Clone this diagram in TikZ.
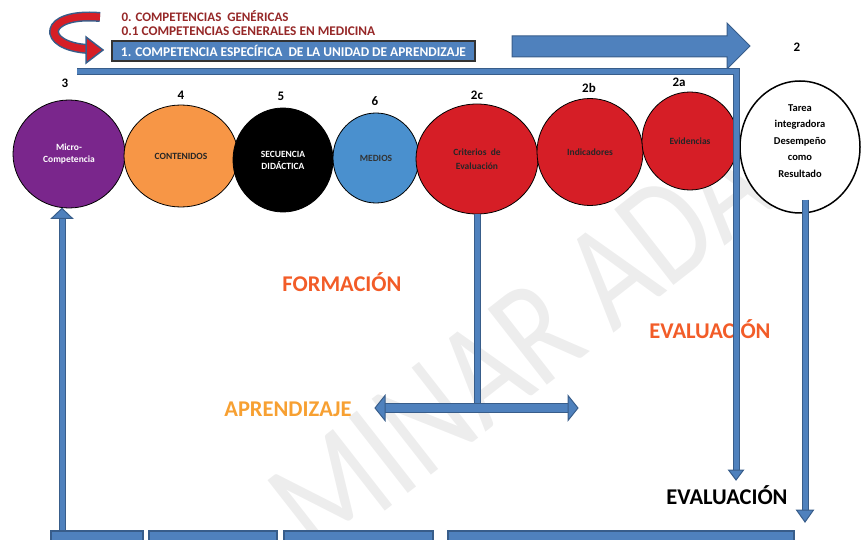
\documentclass[tikz,border=0pt]{standalone}
\usepackage{fontspec}
\setmainfont{Carlito}
\newfontfamily\marcafont[FakeStretch=0.8]{Carlito}
\usetikzlibrary{shapes.geometric}

\definecolor{azul}{RGB}{79,129,189}
\definecolor{azulborde}{RGB}{56,93,138}
\definecolor{rojooscuro}{RGB}{150,40,40}
\definecolor{morado}{RGB}{122,38,140}
\definecolor{naranja}{RGB}{247,150,70}
\definecolor{celeste}{RGB}{74,144,206}
\definecolor{rojo}{RGB}{214,30,38}
\definecolor{naranjarojo}{RGB}{242,92,40}
\definecolor{naranjaclaro}{RGB}{247,160,50}

% punta de flecha: (punta)[angulo:largo:ancho]
\def\punta(#1)[#2:#3:#4]{\draw[draw=azulborde, fill=azul, line width=1pt, line join=miter, shift={(#1)}, rotate=#2] (0,0) -- (-#3,#4/2) -- (-#3,-#4/2) -- cycle;}

\begin{document}
\begin{tikzpicture}[x=1pt, y=-1pt,
	circulo/.style={ellipse, draw=black, line width=0.8pt, inner sep=0pt, align=center, font=\bfseries\fontsize{9.5}{15}\selectfont},
	numero/.style={font=\bfseries\fontsize{13}{13}\selectfont},
	tubo/.style={draw=azulborde, double=azul, double distance=5pt, line width=1pt, line join=miter},
	caja/.style={draw=azulborde, fill=azul, line width=1.5pt, anchor=north west, minimum height=20, inner sep=0pt},
	titulo/.style={font=\bfseries\fontsize{22.5}{22}\selectfont}]
		%%%%% START %%%%%
		\useasboundingbox (0,0) rectangle (862,540);
		
		\begin{scope}
			\clip (0,0) rectangle (862,540);
			\node[rotate=38, text=black!7, font=\marcafont\fontsize{150}{150}\selectfont] (marca) at (520,345) {MINAR ADA};
		\end{scope}
		
		% competencias
		\node[anchor=west, text=rojooscuro, font=\bfseries\fontsize{13}{13}\selectfont] (generica) at (118,16) {0. COMPETENCIAS\ \ GENÉRICAS};
		\node[anchor=west, text=rojooscuro, font=\bfseries\fontsize{13.3}{13}\selectfont] (general) at (118,31) {0.1 COMPETENCIAS GENERALES EN MEDICINA};
		\node[draw=black!80, fill=azul, line width=1.2pt, minimum width=363, minimum height=20, inner sep=0pt, text=white, font=\bfseries\fontsize{13.4}{13}\selectfont] (especifica) at (293.5,51) {1. COMPETENCIA ESPECÍFICA\ \ DE LA UNIDAD DE APRENDIZAJE};
		
		\draw[draw=azulborde, double=rojo, double distance=7pt, line width=1.5pt] (100,17) .. controls (42,12) and (40,46) .. (88,49);
		\draw[draw=azulborde, fill=rojo, line width=1.5pt, line join=miter] (103,50) -- (86,37) -- (86,63) -- cycle;
		
		\draw[draw=azulborde, fill=azul, line width=1pt, line join=miter] (512,36) -- (727,36) -- (727,23) -- (750,46) -- (727,69) -- (727,57) -- (512,57) -- cycle;
		
		% circulos
		\node[circulo, fill=morado, text=white, minimum width=112, minimum height=108] (micro) at (69,154) {Micro-\\[-3pt]Competencia};
		\node[circulo, fill=naranja, text=black!85, minimum width=114, minimum height=102] (contenidos) at (181,156) {CONTENIDOS};
		\node[circulo, fill=black, text=white, minimum width=100, minimum height=104] (secuencia) at (283,160) {SECUENCIA\\[-3pt]DIDÁCTICA};
		\node[circulo, fill=celeste, text=black!80, minimum width=86, minimum height=90] (medios) at (376,158) {MEDIOS};
		\node[circulo, fill=rojo, text=black!85, minimum width=122, minimum height=110] (criterios) at (477,159) {Criterios\ \ de\\[-1pt]Evaluación};
		\node[circulo, fill=rojo, text=black!85, minimum width=106, minimum height=107] (indicadores) at (590,152) {Indicadores};
		\node[circulo, fill=rojo, text=black!85, minimum width=96, minimum height=98] (evidencias) at (690,141) {Evidencias};
		\node[circulo, fill=white, text=black, line width=1.5pt, minimum width=120, minimum height=132, text depth=12pt, font=\bfseries\fontsize{10.5}{16.5}\selectfont] (tarea) at (800,147) {Tarea\\integradora\\Desempeño\\como\\Resultado};
		
		\node[numero] (n3) at (65,83) {3};
		\node[numero] (n4) at (181,95) {4};
		\node[numero] (n5) at (281,96) {5};
		\node[numero] (n6) at (375,101) {6};
		\node[numero] (n2c) at (477,95) {2c};
		\node[numero] (n2b) at (589,88) {2b};
		\node[numero] (n2a) at (679,82) {2a};
		\node[numero] (n2) at (797,47) {2};
		
		% textos
		\node[titulo, text=naranjarojo] (formacion) at (342,282) {FORMACIÓN};
		\node[titulo, text=naranjarojo] (evaluacion) at (710,329) {EVALUACIÓN};
		\node[titulo, text=naranjaclaro] (aprendizaje) at (288,409) {APRENDIZAJE};
		\node[titulo, text=black] (evalfinal) at (727,495) {EVALUACIÓN};
		
		% cajas de abajo
		\node[caja, minimum width=92] (cajaA) at (50,530) {};
		\node[caja, minimum width=128] (cajaB) at (148,530) {};
		\node[caja, minimum width=149] (cajaC) at (283,530) {};
		\node[caja, minimum width=346] (cajaD) at (447,530) {};
		
		% flechas
		\coordinate (barraIni) at (77,72);
		\coordinate (esquina) at (736,72);
		\coordinate (puntaEval) at (736,480);
		\draw[tubo] (barraIni) -- (esquina) -- ([yshift=9]puntaEval);
		\punta(puntaEval)[-90:10:15]
		
		\coordinate (puntaMicro) at ([xshift=-7]micro.south);
		\draw[tubo] (puntaMicro |- cajaA.north) -- ([yshift=-10]puntaMicro);
		\punta(puntaMicro)[90:10:21]
		
		\coordinate (salidaTarea) at ([xshift=5,yshift=14]tarea.south);
		\coordinate (puntaTarea) at (805,522);
		\draw[tubo] (salidaTarea) -- ([yshift=11]puntaTarea);
		\punta(puntaTarea)[-90:12:17]
		
		\coordinate (aprIzq) at (375,408);
		\coordinate (aprDer) at (578,408);
		\draw[tubo] (criterios.south) -- (criterios.south |- aprIzq);
		\draw[draw=azulborde, double=azul, double distance=8pt, line width=1pt] ([xshift=9]aprIzq) -- ([xshift=-9]aprDer);
		\punta(aprIzq)[180:10:25]
		\punta(aprDer)[0:10:25]
		
		%%%%% END %%%%%
\end{tikzpicture}
\end{document}
